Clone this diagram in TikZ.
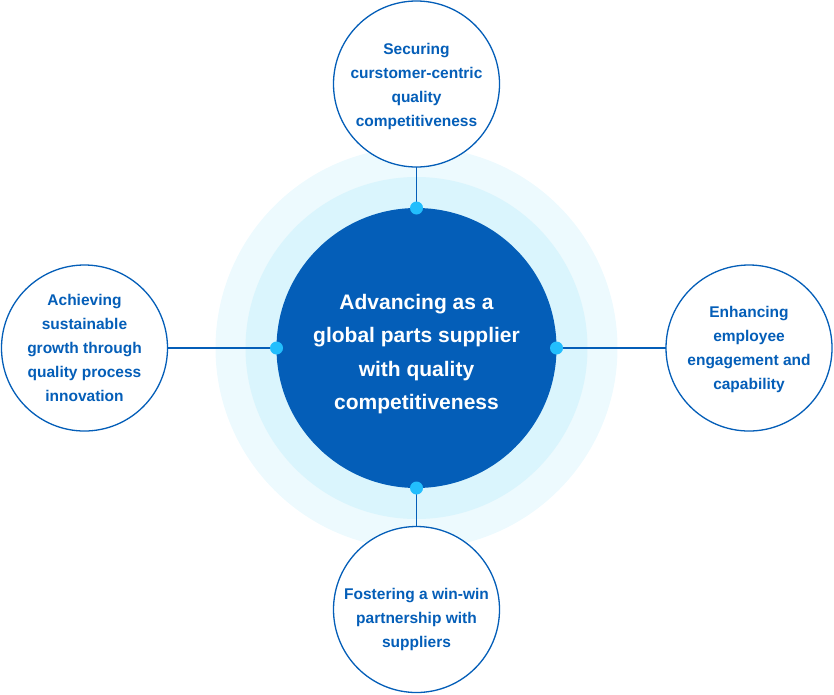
\documentclass[tikz,border=0pt]{standalone}
\usepackage{fontspec}
\setmainfont{Liberation Sans}
\definecolor{deepblue}{HTML}{045EB8}
\definecolor{haloinner}{HTML}{DAF5FD}
\definecolor{haloouter}{HTML}{EDFAFE}
\definecolor{dotcyan}{HTML}{22BEFD}
\tikzset{
  halo/.style={circle, inner sep=0pt, outer sep=0pt, draw=none},
  hub/.style={circle, fill=deepblue, inner sep=0pt, outer sep=0pt,
    minimum size=280pt},
  hubtext/.style={inner sep=0pt, text=white, align=center,
    font=\bfseries\fontsize{21}{33.5}\selectfont},
  goal/.style={circle, draw=deepblue, line width=1.3pt, fill=white,
    inner sep=0pt, outer sep=0pt, minimum size=166pt},
  goaltext/.style={inner sep=0pt, text=deepblue, align=center,
    font=\bfseries\fontsize{15.5}{24}\selectfont},
  link/.style={draw=deepblue, line width=1.3pt},
  joint/.style={circle, fill=dotcyan, inner sep=0pt, outer sep=0pt,
    minimum size=13pt}
}
\begin{document}
\begin{tikzpicture}[x=1pt, y=-1pt]
\useasboundingbox (0,0) rectangle (834,694);
% concentric glow behind the central goal
\node[halo, fill=haloouter, minimum size=402pt] (outerhalo) at (416.5,348) {};
\node[halo, fill=haloinner, minimum size=342pt] (innerhalo) at (416.5,348) {};
% surrounding goals
\node[goal] (top) at (416.5,84) {};
\node[goal] (left) at (84.5,348) {};
\node[goal] (right) at (749,348) {};
\node[goal] (bottom) at (416.5,609.5) {};
\node[goaltext] (toptext) at ([yshift=-2pt]top.center) {Securing\\curstomer-centric\\quality\\competitiveness};
\node[goaltext] (lefttext) at (left.center) {Achieving\\sustainable\\growth through\\quality process\\innovation};
\node[goaltext] (righttext) at ([yshift=-1.5pt]right.center) {Enhancing\\employee\\engagement and\\capability};
\node[goaltext] (bottomtext) at ([yshift=-10pt]bottom.center) {Fostering a win-win\\partnership with\\suppliers};
% central goal
\node[hub] (hub) at (416.5,348) {};
\node[hubtext] (hubtext) at ([yshift=-6pt]hub.center) {Advancing as a\\global parts supplier\\with quality\\competitiveness};
% connectors
\draw[link] (top.south) -- (hub.north);
\draw[link] (left.east) -- (hub.west);
\draw[link] (right.west) -- (hub.east);
\draw[link] (bottom.north) -- (hub.south);
% joints on the rim of the central goal
\node[joint] (jn) at (hub.north) {};
\node[joint] (jw) at (hub.west) {};
\node[joint] (je) at (hub.east) {};
\node[joint] (js) at (hub.south) {};
\end{tikzpicture}
\end{document}
